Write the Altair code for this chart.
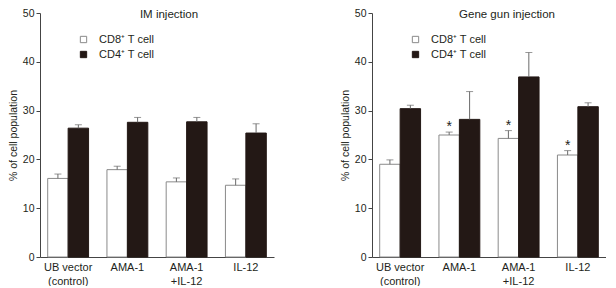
import altair as alt
import pandas as pd

groups = ["UB vector\n(control)", "AMA-1", "AMA-1\n+IL-12", "IL-12"]
series = ["CD8⁺ T cell", "CD4⁺ T cell"]
titles = ["IM injection", "Gene gun injection"]

im_cd8 = [16.1, 17.9, 15.4, 14.7]
im_cd8_err = [0.9, 0.7, 0.8, 1.3]
im_cd4 = [26.4, 27.6, 27.7, 25.4]
im_cd4_err = [0.7, 1.0, 0.9, 1.9]

gg_cd8 = [19.0, 25.0, 24.3, 20.9]
gg_cd8_err = [0.9, 0.6, 1.6, 0.9]
gg_cd4 = [30.4, 28.2, 36.9, 30.8]
gg_cd4_err = [0.7, 5.7, 5.0, 0.8]

im_sig = ["", "", "", ""]
gg_cd8_sig = ["", "*", "*", "*"]


def make_df(cd8, cd8e, cd4, cd4e, sig8):
    rows = []
    for i, g in enumerate(groups):
        rows.append(dict(group=g, series=series[0], value=cd8[i], top=cd8[i] + cd8e[i], sig=sig8[i]))
        rows.append(dict(group=g, series=series[1], value=cd4[i], top=cd4[i] + cd4e[i], sig=""))
    return pd.DataFrame(rows)


df_im = make_df(im_cd8, im_cd8_err, im_cd4, im_cd4_err, im_sig)
df_gg = make_df(gg_cd8, gg_cd8_err, gg_cd4, gg_cd4_err, gg_cd8_sig)

TXT = "#231f20"


def panel(df, title, tdx):
    base = alt.Chart(df)
    x = alt.X(
        "group:N", sort=groups, title=None,
        scale=alt.Scale(paddingInner=0.31, paddingOuter=0.13),
        axis=alt.Axis(labelExpr="split(datum.label, '\\n')", ticks=False, labelAngle=0,
                      labelPadding=4, domainColor="#444", labelFontSize=11,
                      labelColor=TXT, labelLineHeight=14),
    )
    xo = alt.XOffset("series:N", sort=series, scale=alt.Scale(domain=series, paddingInner=0, paddingOuter=0))
    y = alt.Y(
        "value:Q", title="% of cell population",
        scale=alt.Scale(domain=[0, 50], nice=False),
        axis=alt.Axis(values=[0, 10, 20, 30, 40, 50], grid=False, tickSize=4, tickColor="#444",
                      domainColor="#444", labelFontSize=10.5, labelColor=TXT, labelPadding=2,
                      titleFontSize=10.5, titleFontWeight="normal", titleColor=TXT, titlePadding=4),
    )
    leg = alt.Legend(title=None, orient="none", legendX=38, legendY=21, symbolType="square",
                     symbolSize=40, labelFontSize=11, labelColor=TXT, labelOffset=10,
                     rowPadding=3, symbolStrokeWidth=1)
    bars = base.mark_bar(strokeWidth=1).encode(
        x=x, xOffset=xo, y=y,
        fill=alt.Fill("series:N", sort=series, scale=alt.Scale(domain=series, range=["#ffffff", "#231815"]), legend=leg),
        stroke=alt.Stroke("series:N", sort=series, scale=alt.Scale(domain=series, range=["#8a8a8a", "#231815"]), legend=leg),
    )
    rules = base.mark_rule(color="#6a6a6a", strokeWidth=1).encode(
        x=alt.X("group:N", sort=groups), xOffset=xo, y="value:Q", y2="top:Q"
    )
    caps = base.mark_tick(color="#6a6a6a", thickness=1, size=7, orient="horizontal").encode(
        x=alt.X("group:N", sort=groups), xOffset=xo, y="top:Q"
    )
    stars = base.mark_text(fontSize=14, color=TXT, dy=-5, baseline="middle").encode(
        x=alt.X("group:N", sort=groups), xOffset=xo, y="top:Q", text="sig:N"
    )
    return alt.layer(bars, rules, caps, stars).properties(
        width=234, height=244,
        title=alt.TitleParams(title, fontSize=11.5, fontWeight="normal", color=TXT, dx=tdx, offset=-12),
    )


chart = alt.hconcat(panel(df_im, titles[0], 12), panel(df_gg, titles[1], 18), spacing=66).resolve_scale(
    fill="independent", stroke="independent"
).resolve_legend(fill="independent", stroke="independent").properties(
    padding={"left": 0, "top": 0, "right": 0, "bottom": 0}
).configure(font="Liberation Sans").configure_view(stroke=None)

chart.save("out.html", embed_options={"renderer": "svg", "actions": False})
